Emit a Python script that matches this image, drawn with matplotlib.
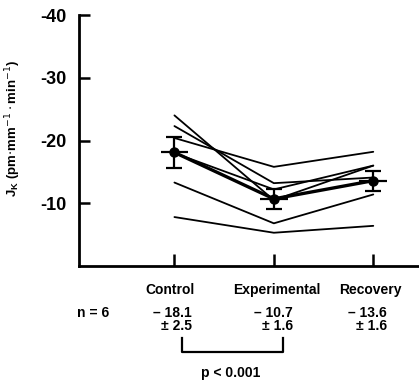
import matplotlib.pyplot as plt

plt.rcParams['font.family'] = ['Liberation Sans', 'DejaVu Sans']

# phases and the individual flux curves (pm/mm/min)
phases = ['Control', 'Experimental', 'Recovery']
subjects = [
    [-20.4, -15.8, -18.2],
    [-24.0, -10.5, -16.0],
    [-22.3, -13.2, -14.1],
    [-18.0, -12.2, -16.0],
    [-13.3, -6.8, -11.4],
    [-7.8, -5.3, -6.4],
]
mean_vals = [-18.1, -10.7, -13.6]
sem_vals = [2.5, 1.6, 1.6]
yticks = [-10, -20, -30, -40]

W, H = 419, 383
fig = plt.figure(figsize=(W / 100, H / 100), dpi=100)
ax = fig.add_axes([79 / W, 1 - 266 / H, 1 - 79 / W, (266 - 15) / H])

x = [1, 2, 3]
for s in subjects:
    ax.plot(x, s, color='black', lw=1.3, solid_capstyle='round')

# mean curve with vertical error bars and short horizontal bars
ax.plot(x, mean_vals, color='black', lw=2.4, marker='o', ms=6.5)
ax.errorbar(x, mean_vals, yerr=sem_vals, fmt='none',
            ecolor='black', elinewidth=1.6, capsize=6, capthick=1.6)
ax.errorbar(x, mean_vals, xerr=0.14, fmt='none',
            ecolor='black', elinewidth=1.6, capsize=0)

ax.set_xlim(0.04, 3.46)
ax.set_ylim(0, -40)
ax.set_xticks(x)
ax.set_xticklabels([])
ax.set_yticks(yticks)
ax.set_yticklabels(['-10', '-20', '-30', '-40'], fontsize=13, fontweight='bold')
ax.tick_params(axis='y', direction='in', length=8, width=1.8, pad=9)
ax.tick_params(axis='x', direction='in', length=9, width=1.8)
for side in ['top', 'right']:
    ax.spines[side].set_visible(False)
for side in ['left', 'bottom']:
    ax.spines[side].set_linewidth(2)
ax.set_ylabel(r'J$_\mathregular{K}$ (pm$\cdot$mm$^{-1}\cdot$min$^{-1}$)',
              fontsize=9.5, fontweight='bold')
ax.yaxis.set_label_coords(-0.165, 0.55)

# category names and summary values below the axis
def ftext(px, py, s, ha='center'):
    fig.text(px / W, 1 - py / H, s, ha=ha, va='center', fontsize=10,
             fontweight='bold')

for px, name in zip([170, 277, 370], phases):
    ftext(px, 290, name)
ftext(77, 313, 'n = 6', ha='left')
for px, m, e in zip([192, 293, 387], mean_vals, sem_vals):
    ftext(px, 313, '\u2013 %.1f' % abs(m), ha='right')
    ftext(px, 326, '\u00b1 %.1f' % e, ha='right')

# significance bracket between control and experimental
bx0, bx1, by0, by1 = 182 / W, 283 / W, 1 - 338 / H, 1 - 352 / H
fig.add_artist(plt.Line2D([bx0, bx0, bx1, bx1], [by0, by1, by1, by0],
                          color='black', lw=1.6, transform=fig.transFigure))
ftext(231, 373, 'p < 0.001')

fig.savefig('out.png', dpi=100)
